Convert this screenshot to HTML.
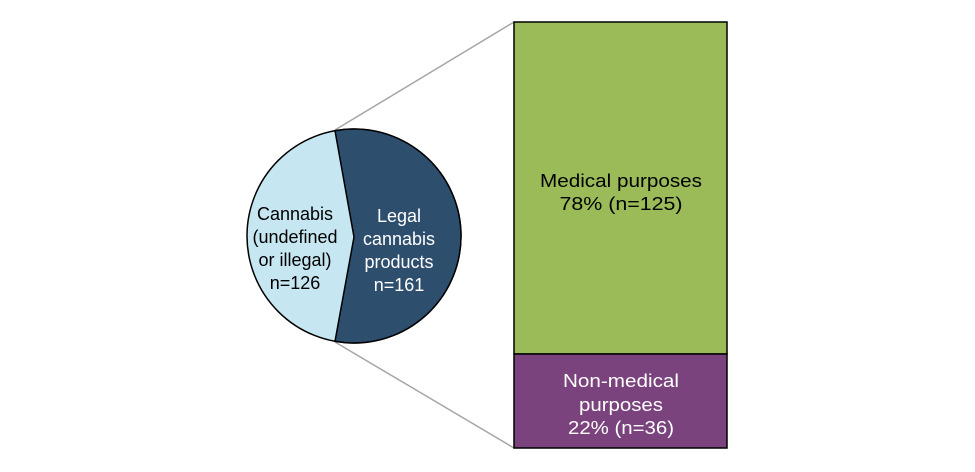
<!DOCTYPE html>
<html><head><style>body{margin:0;background:#fff}svg{display:block}text{font-family:"Liberation Sans",Arial,sans-serif;font-size:18px;text-anchor:middle}</style></head><body>
<svg width="975" height="472" viewBox="0 0 975 472">
<line x1="335" y1="130" x2="514" y2="22" stroke="#a6a6a6" stroke-width="1.5"/>
<line x1="335" y1="342" x2="514" y2="448" stroke="#a6a6a6" stroke-width="1.5"/>
<circle cx="354" cy="236" r="107" fill="#c6e7f2" stroke="#000" stroke-width="1.5"/>
<path d="M354 237 L335 130.7 A107 107 0 1 1 335 341.3 Z" fill="#2e4e6e" stroke="#000" stroke-width="1.5"/>
<rect x="514" y="22" width="213" height="332" fill="#9bbb59" stroke="#000" stroke-width="1.5"/>
<rect x="514" y="354" width="213" height="94" fill="#7b437d" stroke="#000" stroke-width="1.5"/>
<g fill="#000"><text x="295" y="220">Cannabis</text><text x="295" y="243">(undefined</text><text x="295" y="266">or illegal)</text><text x="295" y="289">n=126</text></g>
<g fill="#fff"><text x="399" y="222">Legal</text><text x="399" y="245">cannabis</text><text x="399" y="268">products</text><text x="399" y="291">n=161</text></g>
<g fill="#000" style="font-size:21px"><text x="621" y="187" textLength="162" lengthAdjust="spacingAndGlyphs">Medical purposes</text><text x="621" y="210" textLength="123" lengthAdjust="spacingAndGlyphs">78% (n=125)</text></g>
<g fill="#fff" style="font-size:21px"><text x="621" y="387" textLength="116" lengthAdjust="spacingAndGlyphs">Non-medical</text><text x="621" y="411" textLength="84" lengthAdjust="spacingAndGlyphs">purposes</text><text x="621" y="434" textLength="106" lengthAdjust="spacingAndGlyphs">22% (n=36)</text></g>
</svg></body></html>
